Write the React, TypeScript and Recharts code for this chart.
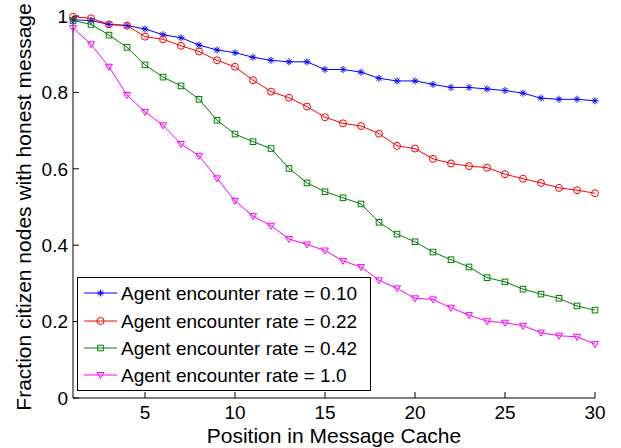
import { Line, LineChart, XAxis, YAxis } from "recharts";

// Position in message cache (1..30)
const positions = [
  1, 2, 3, 4, 5, 6, 7, 8, 9, 10, 11, 12, 13, 14, 15, 16, 17, 18, 19, 20, 21, 22, 23, 24, 25, 26, 27,
  28, 29, 30,
];

const rate010 = [
  0.99, 0.988, 0.978, 0.975, 0.966, 0.951, 0.943, 0.924, 0.911, 0.904, 0.892, 0.884, 0.88, 0.88,
  0.86, 0.86, 0.853, 0.837, 0.83, 0.83, 0.821, 0.813, 0.813, 0.809, 0.805, 0.798, 0.785, 0.782,
  0.782, 0.778,
];
const rate022 = [
  0.998, 0.994, 0.978, 0.975, 0.946, 0.939, 0.922, 0.907, 0.884, 0.867, 0.832, 0.802, 0.786, 0.763,
  0.735, 0.719, 0.712, 0.692, 0.66, 0.653, 0.626, 0.614, 0.607, 0.603, 0.586, 0.574, 0.563, 0.55,
  0.544, 0.536,
];
const rate042 = [
  0.988, 0.978, 0.95, 0.918, 0.872, 0.84, 0.817, 0.782, 0.727, 0.691, 0.671, 0.653, 0.601, 0.563,
  0.54, 0.524, 0.508, 0.46, 0.429, 0.409, 0.382, 0.362, 0.343, 0.315, 0.304, 0.285, 0.272, 0.261,
  0.241, 0.23,
];
const rate100 = [
  0.969, 0.926, 0.867, 0.793, 0.749, 0.714, 0.665, 0.634, 0.575, 0.516, 0.476, 0.451, 0.416, 0.402,
  0.386, 0.359, 0.343, 0.308, 0.287, 0.261, 0.258, 0.236, 0.217, 0.201, 0.197, 0.189, 0.171, 0.163,
  0.16, 0.141,
];

const xTicks = [5, 10, 15, 20, 25, 30];
const yTicks = [0, 0.2, 0.4, 0.6, 0.8, 1];

const seriesNames = [
  "Agent encounter rate = 0.10",
  "Agent encounter rate = 0.22",
  "Agent encounter rate = 0.42",
  "Agent encounter rate = 1.0",
];
const seriesColors = ["#0000ff", "#ff0000", "#008000", "#ff00ff"];
const seriesKeys = ["r010", "r022", "r042", "r100"];
const markers = ["star", "circle", "square", "triangle"];

const data = positions.map((p, i) => ({
  pos: p,
  r010: rate010[i],
  r022: rate022[i],
  r042: rate042[i],
  r100: rate100[i],
}));

const FONT = "'Liberation Sans', Arial, Helvetica, sans-serif";

function Marker({ kind, cx, cy, color }: { kind: string; cx: number; cy: number; color: string }) {
  if (kind === "star") {
    const r = 3.5;
    const d = 2.5;
    return (
      <g stroke={color} strokeWidth={1}>
        <line x1={cx - r} y1={cy} x2={cx + r} y2={cy} />
        <line x1={cx} y1={cy - r} x2={cx} y2={cy + r} />
        <line x1={cx - d} y1={cy - d} x2={cx + d} y2={cy + d} />
        <line x1={cx - d} y1={cy + d} x2={cx + d} y2={cy - d} />
      </g>
    );
  }
  if (kind === "circle") {
    return <circle cx={cx} cy={cy} r={3.5} fill="none" stroke={color} strokeWidth={1} />;
  }
  if (kind === "square") {
    return (
      <rect x={cx - 2.8} y={cy - 2.8} width={5.6} height={5.6} fill="none" stroke={color} strokeWidth={1} />
    );
  }
  return (
    <polygon
      points={`${cx - 3.5},${cy - 2.5} ${cx + 3.5},${cy - 2.5} ${cx},${cy + 3.5}`}
      fill="none"
      stroke={color}
      strokeWidth={1}
    />
  );
}

function makeDot(kind: string, color: string) {
  return (p: any) => {
    if (p.cx == null || p.cy == null) return <g key={`${kind}-${p.index}`} />;
    return (
      <g key={`${kind}-${p.index}`}>
        <Marker kind={kind} cx={p.cx} cy={p.cy} color={color} />
      </g>
    );
  };
}

function LegendBox() {
  const rows = [16, 44, 71, 98];
  return (
    <svg
      width={295}
      height={115}
      style={{ position: "absolute", left: 77, top: 277, overflow: "visible" }}
    >
      <rect x={0.5} y={0.5} width={293} height={113} fill="#fff" stroke="#000" strokeWidth={1} />
      {seriesNames.map((name, i) => (
        <g key={name}>
          <line x1={7} y1={rows[i]} x2={40} y2={rows[i]} stroke={seriesColors[i]} strokeWidth={1} />
          <Marker kind={markers[i]} cx={23.5} cy={rows[i]} color={seriesColors[i]} />
          <text x={44} y={rows[i] + 7} fontSize={19} fontFamily={FONT} fill="#000">
            {name}
          </text>
        </g>
      ))}
    </svg>
  );
}

export default function App() {
  const tickStyle = { fontSize: 19, fontFamily: FONT, fill: "#000" };
  return (
    <div style={{ position: "absolute", left: 0, top: 0, width: 621, height: 448, background: "#fff" }}>
      <LineChart width={621} height={448} data={data} margin={{ top: 16, right: 26, bottom: 0, left: 0 }}>
        <XAxis
          dataKey="pos"
          type="number"
          domain={[1, 30]}
          ticks={xTicks}
          height={50}
          tickSize={-6}
          tickMargin={14}
          tick={tickStyle}
          stroke="#000"
          axisLine={{ stroke: "#000" }}
          tickLine={{ stroke: "#000" }}
          label={{
            value: "Position in Message Cache",
            position: "insideBottom",
            offset: 5,
            fontSize: 21,
            fontFamily: FONT,
            fill: "#000",
          }}
        />
        <XAxis
          xAxisId="top"
          orientation="top"
          dataKey="pos"
          type="number"
          domain={[1, 30]}
          ticks={xTicks}
          height={0}
          tickSize={-6}
          tick={false}
          axisLine={{ stroke: "#000" }}
          tickLine={{ stroke: "#000" }}
        />
        <YAxis
          type="number"
          domain={[0, 1]}
          ticks={yTicks}
          width={73}
          tickSize={-6}
          tickMargin={11}
          tick={tickStyle}
          tickFormatter={(v: number) => String(v)}
          axisLine={{ stroke: "#000" }}
          tickLine={{ stroke: "#000" }}
          label={(props: any) => {
            const vb = props.viewBox || { x: 0, y: 16, width: 73, height: 382 };
            const x = 31;
            const y = vb.y + vb.height / 2;
            return (
              <text
                x={x}
                y={y}
                transform={`rotate(-90 ${x} ${y})`}
                textAnchor="middle"
                fontSize={21}
                fontFamily={FONT}
                fill="#000"
              >
                Fraction citizen nodes with honest message
              </text>
            );
          }}
        />
        <YAxis
          yAxisId="right"
          orientation="right"
          type="number"
          domain={[0, 1]}
          ticks={yTicks}
          width={0}
          tickSize={-6}
          tick={false}
          axisLine={{ stroke: "#000" }}
          tickLine={{ stroke: "#000" }}
        />
        {seriesKeys.map((k, i) => (
          <Line
            key={k}
            dataKey={k}
            name={seriesNames[i]}
            stroke={seriesColors[i]}
            strokeWidth={1}
            dot={makeDot(markers[i], seriesColors[i])}
            activeDot={false}
            isAnimationActive={false}
          />
        ))}
      </LineChart>
      <LegendBox />
    </div>
  );
}
